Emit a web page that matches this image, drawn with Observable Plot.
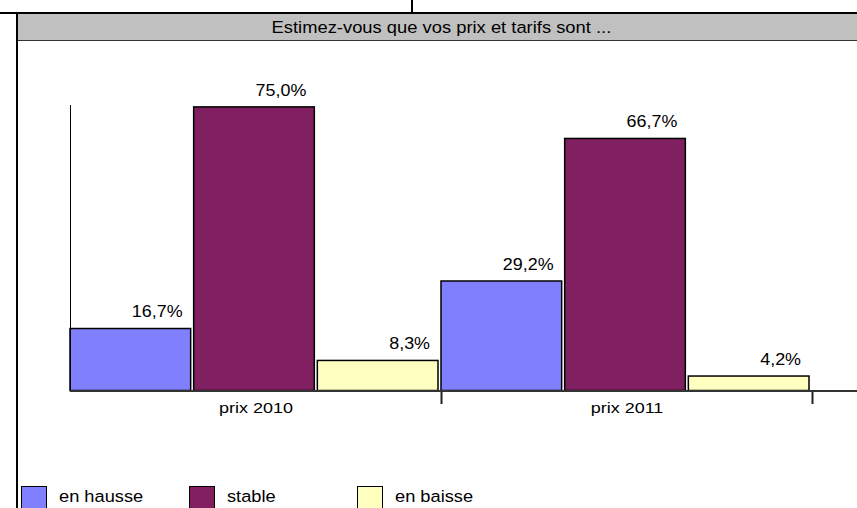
<!DOCTYPE html>
<html>
<head>
<meta charset="utf-8">
<script src="https://cdn.jsdelivr.net/npm/d3@7"></script>
<script src="https://cdn.jsdelivr.net/npm/@observablehq/plot@0.6"></script>
<style>
  html, body { margin: 0; padding: 0; background: #fff; }
  #root { position: relative; width: 857px; height: 508px; overflow: hidden; background: #fff;
          font-family: "Liberation Sans", Arial, sans-serif; color: #000; }
  #chart { position: absolute; left: 0; top: 0; }
  .line { position: absolute; background: #000; }
  #title { position: absolute; left: 18px; top: 14px; width: 839px; height: 26.5px;
           background: #c0c0c0; border-bottom: 1.5px solid #333; box-sizing: border-box;
           text-align: center; font-size: 16.7px; line-height: 28px; white-space: nowrap; }
  #title span { display: inline-block; transform: scaleX(1.1); position: relative; left: 4px; }
  .sw { position: absolute; top: 486px; width: 26px; height: 26px; box-sizing: border-box;
        border: 1.5px solid #000; }
  .lt { position: absolute; top: 486px; font-size: 16.3px; line-height: 21px; white-space: nowrap;
        transform: scaleX(1.12); transform-origin: 0 0; }
  #chart svg text { font-family: "Liberation Sans", Arial, sans-serif; }
  #chart svg text.val { font-size: 16px; }
  #chart svg text.cat { font-size: 15.5px; }
</style>
</head>
<body>
<div id="root">
  <div id="chart"></div>
  <div class="line" style="left:0;top:12px;width:857px;height:2px"></div>
  <div class="line" style="left:16px;top:12px;width:2px;height:496px"></div>
  <div class="line" style="left:411px;top:0;width:2px;height:13px"></div>
  <div id="title"><span></span></div>
  <div id="legend"></div>
</div>
<script>
const title = "Estimez-vous que vos prix et tarifs sont ...";
const categories = ["prix 2010", "prix 2011"];
const series = ["en hausse", "stable", "en baisse"];
const values2010 = [16.7, 75.0, 8.3];
const values2011 = [29.2, 66.7, 4.2];
const colors = ["#8080ff", "#802060", "#ffffc0"];

const valuesByCategory = [values2010, values2011];
const rows = [];
categories.forEach((c, ci) => {
  series.forEach((s, si) => {
    rows.push({category: c, series: s, value: valuesByCategory[ci][si],
               x1: ci * series.length + si, x2: ci * series.length + si + 1});
  });
});
const fmt = v => v.toFixed(1).replace(".", ",") + "%";
const n = categories.length * series.length;

const chart = Plot.plot({
  width: 857,
  height: 430,
  marginLeft: 70,
  marginRight: 0,
  marginTop: 105,
  marginBottom: 38,
  style: {background: "transparent", fontFamily: "'Liberation Sans', Arial, sans-serif", color: "#000"},
  x: {domain: [0, n], range: [70, 812], ticks: categories.map((c, i) => (i + 1) * series.length),
      tickSize: 12, tickFormat: () => "", label: null},
  y: {domain: [0, 75.5], axis: null},
  color: {domain: series, range: colors},
  marks: [
    Plot.rectY(rows, {x1: "x1", x2: "x2", y: "value", fill: "series", stroke: "#000",
                      strokeWidth: 1.5, insetRight: 3, insetBottom: 1.5}),
    Plot.ruleX([0], {stroke: "#000", strokeWidth: 1}),
    Plot.ruleY([0], {stroke: "#333", strokeWidth: 2, dy: -1.5}),
    Plot.text(rows, {x: "x2", y: "value", text: d => fmt(d.value), textAnchor: "end",
                     dx: -11.5, dy: -17, fontSize: 16, fill: "#000"}),
    Plot.text(categories, {x: (d, i) => i * series.length + series.length / 2, y: () => 0,
                           text: d => d, dy: 16, fontSize: 15.5, fill: "#000"})
  ]
});
chart.querySelectorAll("text").forEach(t => {
  const s = t.textContent;
  if (categories.includes(s)) t.classList.add("cat");
  else if (/%$/.test(s)) t.classList.add("val");
});
chart.querySelectorAll('g[aria-label="x-axis tick"] path, g[aria-label="x-axis"] path').forEach(p => {
  p.setAttribute("stroke-width", 2);
  p.setAttribute("stroke", "#222");
});
document.getElementById("chart").appendChild(chart);
// the reference's text is slightly widened horizontally
chart.querySelectorAll("text.val, text.cat").forEach(t => {
  const f = t.classList.contains("cat") ? 1.16 : 1.12;
  const w = t.getComputedTextLength();
  t.setAttribute("textLength", (w * f).toFixed(1));
  t.setAttribute("lengthAdjust", "spacingAndGlyphs");
});
document.querySelector("#title span").textContent = title;

const legend = document.getElementById("legend");
series.forEach((s, i) => {
  const sw = document.createElement("div");
  sw.className = "sw";
  sw.style.left = (20.5 + i * 168) + "px";
  sw.style.background = colors[i];
  legend.appendChild(sw);
  const lt = document.createElement("div");
  lt.className = "lt";
  lt.style.left = (58.5 + i * 168) + "px";
  lt.textContent = s;
  legend.appendChild(lt);
});
</script>
</body>
</html>
